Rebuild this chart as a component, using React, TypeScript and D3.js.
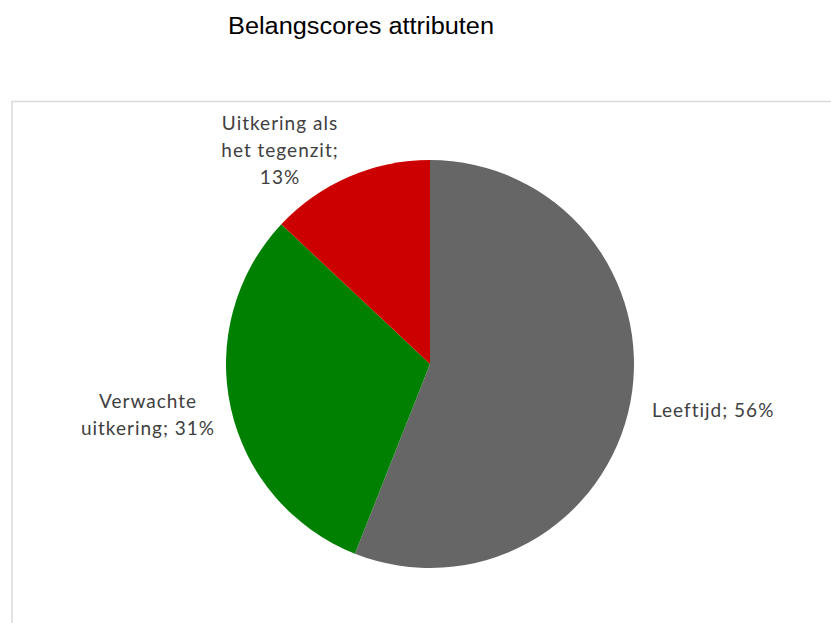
import React from "react";
import * as d3 from "d3";

const categories = ["Leeftijd", "Verwachte uitkering", "Uitkering als het tegenzit"];
const values = [56, 31, 13];
const colors = ["#666666", "#008000", "#cc0000"];
const labelLines = [
  ["Leeftijd; 56%"],
  ["Verwachte", "uitkering; 31%"],
  ["Uitkering als", "het tegenzit;", "13%"],
];

const W = 831;
const H = 623;
const cx = 430;
const cy = 364;
const R = 204;

// label anchor positions (x center / start, first baseline)
const labelPos = [
  { x: 652, y: 417, anchor: "start" },
  { x: 148, y: 408, anchor: "middle" },
  { x: 280, y: 130, anchor: "middle" },
];

export default function App() {
  const pie = d3.pie<number>().sort(null).value((d) => d)(values);
  const arc = d3.arc<d3.PieArcDatum<number>>().innerRadius(0).outerRadius(R);
  const font = "Lato, 'Open Sans', sans-serif";
  return (
    <svg width={W} height={H} style={{ position: "absolute", left: 0, top: 0 }}>
      <rect x={0} y={0} width={W} height={H} fill="#ffffff" />
      <text
        x={228}
        y={34}
        fontFamily="'Liberation Sans', Arial, sans-serif"
        fontSize={23}
        textLength={266}
        lengthAdjust="spacingAndGlyphs"
        fill="#000"
      >
        Belangscores attributen
      </text>
      <path d={`M12,${H} L12,101.5 L${W},101.5`} fill="none" stroke="#d9d9d9" strokeWidth={1.5} />
      <g transform={`translate(${cx},${cy})`}>
        {pie.map((p, i) => (
          <path key={categories[i]} d={arc(p) || ""} fill={colors[i]} />
        ))}
      </g>
      {labelLines.map((lines, i) => (
        <text
          key={i}
          fontFamily={font}
          fontSize={19}
          letterSpacing={1}
          fill="#404040"
          textAnchor={labelPos[i].anchor as any}
        >
          {lines.map((l, j) => (
            <tspan key={j} x={labelPos[i].x} y={labelPos[i].y + j * 27}>
              {l}
            </tspan>
          ))}
        </text>
      ))}
    </svg>
  );
}
